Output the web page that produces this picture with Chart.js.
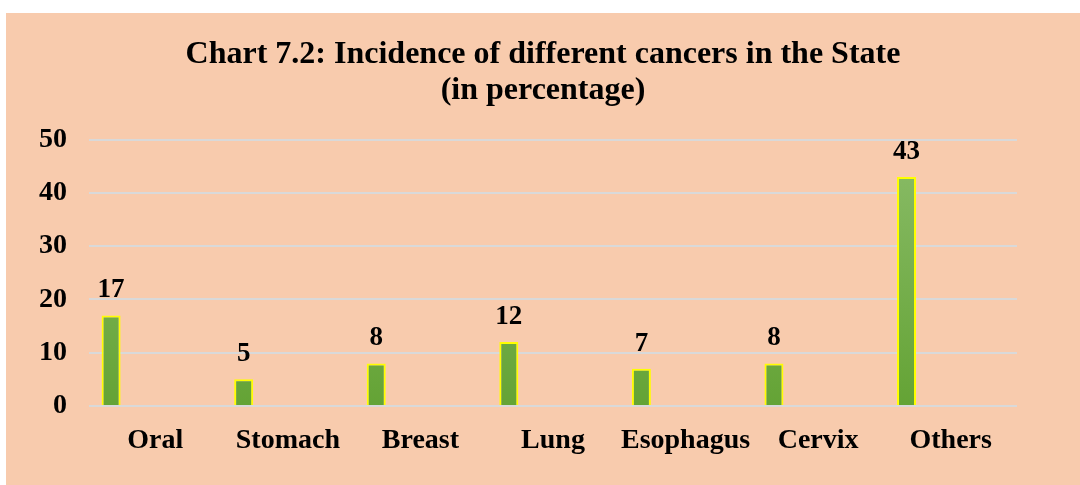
<!DOCTYPE html>
<html>
<head>
<meta charset="utf-8">
<script src="https://cdn.jsdelivr.net/npm/chart.js@4"></script>
<style>
  html, body { margin: 0; padding: 0; background: #ffffff; }
  #wrap { position: absolute; left: 6px; top: 13px; width: 1074px; height: 472px; background: #F8CBAD; }
</style>
</head>
<body>
<div id="wrap"><canvas id="c" width="1074" height="472"></canvas></div>
<script>
const categories = ["Oral", "Stomach", "Breast", "Lung", "Esophagus", "Cervix", "Others"];
const incidence = [17, 5, 8, 12, 7, 8, 43];
const emptySeries = [];
const yTicks = [0, 10, 20, 30, 40, 50];
const titleLines = ["Chart 7.2: Incidence of different cancers in the State", "(in percentage)"];

const serif = "'Liberation Serif', 'Times New Roman', serif";

const ctx = document.getElementById('c').getContext('2d');

function barGradient(context) {
  const chart = context.chart;
  const area = chart.chartArea;
  if (!area) return '#6DAA45';
  const y = chart.scales.y;
  const g = chart.ctx.createLinearGradient(0, y.getPixelForValue(45), 0, y.getPixelForValue(0));
  g.addColorStop(0, '#87BA64');
  g.addColorStop(1, '#64A335');
  return g;
}

const valueLabels = {
  id: 'valueLabels',
  afterDatasetsDraw(chart) {
    const meta = chart.getDatasetMeta(0);
    const c = chart.ctx;
    c.save();
    c.font = "bold 27px " + serif;
    c.fillStyle = '#000000';
    c.textAlign = 'center';
    c.textBaseline = 'alphabetic';
    meta.data.forEach((bar, i) => {
      c.fillText(String(incidence[i]), bar.x, bar.y - 18);
    });
    c.restore();
  }
};

new Chart(ctx, {
  type: 'bar',
  data: {
    labels: categories,
    datasets: [
      { data: incidence, backgroundColor: barGradient, borderColor: '#FFFF00', borderWidth: 2,
        barPercentage: 0.43, categoryPercentage: 1.0 },
      { data: emptySeries, backgroundColor: 'transparent', barPercentage: 0.43, categoryPercentage: 1.0 },
      { data: emptySeries, backgroundColor: 'transparent', barPercentage: 0.43, categoryPercentage: 1.0 }
    ]
  },
  options: {
    responsive: false,
    animation: false,
    layout: { padding: { left: 0, right: 0, top: 0, bottom: 0 } },
    plugins: {
      legend: { display: false },
      tooltip: { enabled: false },
      title: {
        display: true,
        text: titleLines,
        color: '#000000',
        font: { family: serif, size: 32, weight: 'bold', lineHeight: 1.15 },
        padding: { top: 23, bottom: 30 }
      }
    },
    scales: {
      x: {
        grid: { display: false },
        border: { display: false },
        ticks: { color: '#000000', font: { family: serif, size: 28, weight: 'bold' }, padding: 10, maxRotation: 0, autoSkip: false },
        afterFit(scale) { scale.height = 79; }
      },
      y: {
        min: 0, max: 50,
        afterBuildTicks(scale) { scale.ticks = yTicks.map(v => ({ value: v })); },
        grid: { color: '#D9D9D9', lineWidth: 2, drawTicks: false },
        border: { display: false },
        ticks: { color: '#000000', font: { family: serif, size: 28, weight: 'bold' }, padding: 22 },
        afterFit(scale) { scale.width = 83; }
      },
      y2: {
        position: 'right',
        display: true,
        grid: { display: false, drawTicks: false },
        border: { display: false },
        ticks: { display: false },
        afterFit(scale) { scale.width = 63; }
      }
    }
  },
  plugins: [valueLabels]
});
</script>
</body>
</html>
